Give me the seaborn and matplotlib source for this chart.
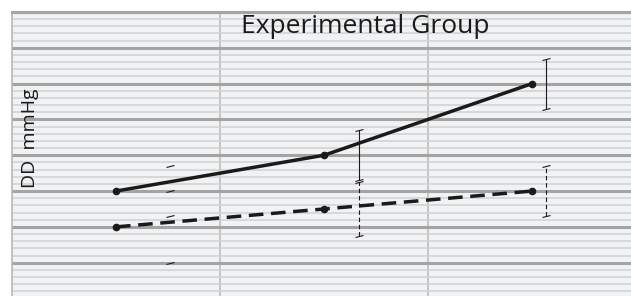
import numpy as np
import pandas as pd
import seaborn as sns
import matplotlib.pyplot as plt
from matplotlib.markers import MarkerStyle
from matplotlib.transforms import Affine2D

# DD (mmHg) per visit, two groups of measurements
visits = ["T1", "T2", "T3"]
solid_mean = [70, 80, 100]
solid_sd = [7, 7, 7]
dashed_mean = [60, 65, 70]
dashed_sd = [10, 7.5, 7]

df = pd.DataFrame({
    "visit": list(range(len(visits))) * 2,
    "DD": solid_mean + dashed_mean,
    "series": ["solid"] * 3 + ["dashed"] * 3,
})

sns.set_style("white")
plt.rcParams['font.family'] = ['Open Sans', 'DejaVu Sans']

fig = plt.figure(figsize=(6.31, 2.96), dpi=100)
ax = fig.add_axes([12 / 631, 0, 624 / 631, 284 / 296])
ax.set_facecolor("#f1f2f4")

sns.lineplot(data=df, x="visit", y="DD", style="series",
             dashes={"solid": "", "dashed": (4.2, 2.2)},
             markers={"solid": "o", "dashed": "o"}, color="#1a1a1a",
             lw=2.5, markersize=5.5, markeredgewidth=0, legend=False, ax=ax,
             zorder=5)

# error bars sit to the right of each point
bar_shift = [0.26, 0.168, 0.067]
xb = np.arange(len(visits)) + np.array(bar_shift)
cap = MarkerStyle("_", transform=Affine2D().rotate_deg(18))
for mean, sd, ls in [(solid_mean, solid_sd, "-"), (dashed_mean, dashed_sd, (0, (4, 2.5)))]:
    _, caps, bars = ax.errorbar(xb, mean, yerr=sd, fmt="none", ecolor="#1a1a1a",
                                elinewidth=0.8, capsize=3.3, capthick=0.8, zorder=4)
    bars[0].set_linestyle(ls)
    bars[0].set_linewidths([0, 0.8, 0.8])
    for c in caps:
        c.set_marker(cap)

ax.set_xlim(-0.5, 2.5)
ax.set_ylim(40.7, 120)
ax.set_yticks(np.arange(50, 121, 10))
ax.set_yticks(np.arange(42, 120, 2), minor=True)
ax.set_xticks([0.5, 1.5])
ax.grid(axis="y", which="major", color="#a4a4a4", lw=2.2)
ax.grid(axis="y", which="minor", color="#d0d1d3", lw=1.1)
ax.grid(axis="x", which="major", color="#c4c4c4", lw=1.4)
ax.tick_params(which="both", length=0, labelleft=False, labelbottom=False)
ax.set_xlabel("")
ax.set_ylabel("")
for s in ["right", "bottom"]:
    ax.spines[s].set_visible(False)
ax.spines["top"].set_color("#a4a4a4")
ax.spines["top"].set_linewidth(2.2)
ax.spines["left"].set_color("#b8b8b8")
ax.spines["left"].set_linewidth(1.2)

ax.text(0.566, 0.926, "Experimental Group", transform=ax.transAxes,
        ha="center", va="baseline", fontsize=19, color="#1a1a1a")
ax.text(0.029, 0.556, "DD  mmHg", transform=ax.transAxes, rotation=90,
        ha="center", va="center", fontsize=14, color="#1a1a1a")

fig.savefig("out.png", dpi=100)
